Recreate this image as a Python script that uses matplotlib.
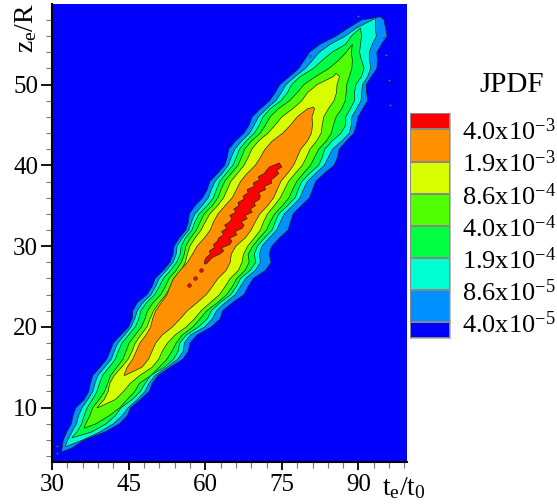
"""JPDF of entrainment height against entrainment time, filled contour bands."""
import matplotlib
matplotlib.use("Agg")
import matplotlib.pyplot as plt
import numpy as np
from matplotlib.colors import ListedColormap
from matplotlib.ticker import MultipleLocator

plt.rcParams["font.family"] = ["Liberation Serif", "DejaVu Serif"]
plt.rcParams["mathtext.fontset"] = "custom"
plt.rcParams["mathtext.rm"] = "Liberation Serif"
plt.rcParams["mathtext.it"] = "Liberation Serif"

# legend, bottom to top
colors = ["#0000ff", "#0090ff", "#00ffd0", "#00ff40", "#50ff00", "#d8ff00", "#ff9000", "#ff0000"]
labels = ["4.0x10^{-5}", "8.6x10^{-5}", "1.9x10^{-4}", "4.0x10^{-4}", "8.6x10^{-4}", "1.9x10^{-3}", "4.0x10^{-3}"]

# band outlines: z rows, left t, right t
z1 = [4.6] + list(range(5, 59)) + [58.4]
l1 = [31.8, 32.0, 32.2, 32.9, 33.8, 34.1, 34.7, 36.3, 37.2, 37.5, 38.0, 39.4, 40.7, 41.4, 42.0, 43.5, 45.0, 45.7, 45.8, 46.7, 48.6, 49.6, 50.2, 51.8, 53.1, 53.7, 53.9, 54.9, 56.2, 56.7, 56.9, 58.0, 59.5, 60.4, 60.9, 62.4, 63.8, 64.3, 64.6, 65.9, 67.6, 68.6, 69.2, 70.8, 72.6, 73.7, 74.6, 76.5, 78.3, 79.4, 80.4, 82.5, 85.6, 88.0, 90.6, 94.3]
r1 = [32.2, 33.9, 36.2, 40.4, 43.2, 44.7, 45.4, 47.3, 49.0, 49.6, 50.8, 53.1, 55.6, 56.7, 57.0, 58.4, 61.2, 62.9, 63.4, 65.3, 67.6, 68.4, 69.4, 71.8, 72.9, 72.5, 73.0, 74.5, 76.2, 76.7, 77.2, 78.8, 80.4, 81.0, 81.6, 83.3, 85.2, 85.9, 86.2, 87.6, 89.1, 89.6, 89.9, 90.8, 91.8, 91.6, 91.5, 92.5, 93.6, 93.7, 93.6, 94.5, 95.6, 95.3, 95.0, 94.3]

z2 = [5.2] + list(range(6, 58)) + [58.2]
l2 = [32.6, 33.1, 33.9, 34.8, 35.2, 35.9, 37.0, 38.0, 38.4, 39.0, 40.3, 41.6, 42.2, 42.9, 44.2, 45.5, 46.2, 46.7, 47.8, 49.4, 50.3, 51.0, 52.4, 53.7, 54.3, 54.5, 55.5, 56.8, 57.3, 58.0, 59.4, 60.6, 61.2, 61.9, 63.3, 64.5, 65.1, 65.8, 67.1, 68.7, 69.6, 70.4, 72.0, 73.8, 74.9, 75.8, 77.6, 79.6, 81.0, 82.3, 84.5, 87.4, 89.6, 93.3]
r2 = [32.8, 36.0, 39.4, 42.0, 43.7, 44.9, 46.7, 48.2, 49.0, 50.2, 52.5, 54.6, 55.7, 55.9, 57.1, 59.9, 61.4, 62.2, 63.9, 65.9, 66.9, 67.9, 69.8, 70.8, 70.6, 71.1, 72.5, 74.0, 74.7, 75.5, 77.1, 78.6, 79.2, 80.0, 81.6, 83.3, 84.1, 84.9, 86.7, 88.2, 88.6, 88.7, 89.6, 90.5, 90.6, 90.8, 91.8, 92.4, 92.2, 92.1, 92.7, 93.5, 93.3, 93.3]

z3 = [6.3] + list(range(7, 58))
l3 = [33.9, 34.9, 35.8, 36.3, 36.9, 37.9, 38.8, 39.3, 39.9, 41.2, 42.4, 43.0, 43.7, 45.0, 46.3, 47.0, 47.4, 48.5, 50.1, 51.0, 51.8, 53.2, 54.4, 55.1, 55.3, 56.1, 57.4, 58.0, 58.8, 60.4, 61.6, 62.2, 62.8, 64.1, 65.4, 66.1, 66.7, 68.0, 69.6, 70.6, 71.3, 72.7, 74.8, 76.1, 76.9, 78.6, 81.2, 82.9, 84.8, 87.5, 88.6, 90.4]
r3 = [34.1, 37.8, 40.6, 42.4, 43.5, 45.7, 47.3, 48.2, 49.3, 52.0, 53.8, 54.7, 55.0, 56.3, 58.7, 60.4, 61.2, 62.9, 65.0, 66.1, 66.9, 68.8, 69.9, 69.6, 70.2, 71.6, 73.1, 73.7, 74.4, 76.1, 77.6, 78.2, 78.9, 80.4, 82.2, 82.9, 83.4, 84.8, 86.6, 87.5, 87.5, 88.4, 89.2, 89.2, 89.5, 90.6, 91.1, 90.6, 90.2, 90.4, 90.6, 90.4]

z4 = [7.5] + list(range(8, 55)) + [55]
l4 = [36.3, 36.6, 37.4, 38.0, 39.2, 40.3, 40.9, 41.5, 42.7, 43.9, 44.5, 45.1, 46.3, 47.5, 48.2, 48.7, 49.8, 51.3, 52.2, 52.9, 54.3, 55.3, 55.9, 56.2, 57.1, 58.3, 59.0, 59.8, 61.4, 62.5, 63.1, 63.8, 65.1, 66.4, 67.1, 67.7, 69.0, 70.8, 71.8, 72.7, 74.3, 76.5, 78.0, 79.3, 81.6, 84.2, 86.1, 87.6, 88.8]
r4 = [36.5, 38.6, 41.2, 43.3, 44.7, 46.2, 47.1, 49.4, 51.0, 52.5, 53.5, 54.3, 55.5, 57.6, 59.0, 60.3, 62.4, 64.2, 65.3, 66.2, 67.8, 68.6, 68.4, 69.3, 70.6, 72.0, 72.7, 73.6, 75.1, 76.4, 77.1, 77.9, 79.2, 80.6, 81.4, 82.2, 83.7, 84.7, 85.1, 85.6, 86.7, 87.4, 87.6, 87.7, 88.2, 88.7, 88.8, 88.6, 88.8]

z5 = [10] + list(range(11, 52)) + [51.4]
l5 = [38.8, 40.2, 41.0, 41.3, 42.2, 43.6, 44.9, 45.7, 46.3, 47.4, 48.6, 49.2, 49.9, 51.0, 52.3, 53.2, 53.9, 55.3, 56.1, 56.5, 57.0, 58.0, 59.2, 60.0, 60.9, 62.4, 63.6, 64.3, 65.0, 66.3, 67.6, 68.4, 69.1, 70.4, 72.3, 73.7, 75.0, 77.1, 78.9, 80.0, 81.9, 85.1, 85.6]
r5 = [39.0, 42.4, 44.0, 45.3, 47.2, 49.6, 50.9, 51.6, 52.6, 54.1, 56.3, 57.9, 59.2, 61.0, 62.8, 63.9, 64.9, 66.5, 67.2, 67.5, 68.3, 69.6, 70.8, 71.4, 72.2, 73.5, 74.7, 75.5, 76.3, 77.6, 79.0, 79.8, 80.5, 81.8, 82.7, 82.9, 83.2, 84.1, 85.2, 85.7, 85.8, 86.3, 85.6]

z6 = [14] + list(range(15, 48)) + [47.2]
l6 = [44.1, 44.7, 45.8, 46.5, 47.2, 48.4, 49.3, 49.7, 50.3, 51.4, 52.5, 53.1, 53.8, 55.1, 56.5, 57.5, 58.4, 59.8, 61.0, 61.6, 62.5, 63.9, 65.3, 66.1, 66.9, 68.2, 69.8, 70.8, 71.7, 73.1, 75.2, 76.7, 78.0, 80.0, 81.2]
r6 = [44.3, 47.6, 48.9, 49.6, 50.3, 51.6, 53.6, 55.1, 56.5, 58.4, 60.2, 61.4, 62.5, 64.1, 64.9, 65.1, 66.0, 67.8, 69.0, 69.8, 70.7, 72.2, 73.4, 74.1, 74.8, 76.1, 77.3, 78.0, 78.7, 80.0, 80.8, 81.0, 80.9, 81.4, 81.2]

z7 = [27.8, 28.2, 28.6, 29, 29.4, 29.8, 30.2, 30.6, 31, 31.4, 31.8, 32.2, 32.6, 33, 33.4, 33.8, 34.2, 34.6, 35, 35.4, 35.8, 36.2, 36.6, 37, 37.4, 37.8, 38.2, 38.6, 39, 39.4, 39.8, 40.3]
l7 = [59.8, 59.9, 60.2, 61.0, 60.8, 61.8, 61.6, 62.4, 62.6, 63.6, 63.2, 64.2, 63.8, 64.8, 65.2, 64.8, 66.0, 65.6, 66.6, 66.4, 67.6, 67.4, 68.4, 68.2, 69.6, 69.4, 70.6, 70.4, 71.6, 72.0, 72.6, 74.5]
r7 = [60.2, 60.8, 61.4, 62.8, 63.6, 63.2, 64.8, 65.2, 64.8, 66.2, 65.8, 67.2, 67.6, 67.0, 68.2, 67.8, 69.2, 68.8, 69.8, 69.6, 70.6, 70.8, 70.4, 71.8, 71.6, 73.0, 72.9, 73.7, 74.4, 74.0, 75.0, 74.5]

# loose specks outside the bands
red_t = [56.8, 58.0, 59.2]
red_z = [25.2, 26.0, 27.0]
blue_t = [94.9, 95.3, 95.9, 90.0, 80.6, 30.9, 30.9, 96.2]
blue_z = [55.8, 53.7, 50.6, 58.5, 53.5, 4.4, 5.2, 47.5]

bands = [(z1, l1, r1), (z2, l2, r2), (z3, l3, r3), (z4, l4, r4), (z5, l5, r5), (z6, l6, r6), (z7, l7, r7)]

W, H = 557, 504
fig = plt.figure(figsize=(W / 100, H / 100), dpi=100)
ax = fig.add_axes([52 / W, 1 - 462 / H, 354.5 / W, 458 / H])
ax.set_facecolor(colors[0])

for i, (z, l, r) in enumerate(bands):
    ax.fill(l + r[::-1], z + z[::-1], facecolor=colors[i + 1], edgecolor="#1a2a1a", lw=0.5)
ax.scatter(red_t, red_z, s=7, c=colors[-1], edgecolors="#1a2a1a", linewidths=0.4, zorder=3)
ax.scatter(blue_t, blue_z, s=2, c=colors[1], edgecolors="#1a2a1a", linewidths=0.3, zorder=3)

ax.set_xlim(30, 99.4)
ax.set_ylim(3.27, 59.98)
ax.xaxis.set_major_locator(MultipleLocator(15))
ax.xaxis.set_minor_locator(MultipleLocator(3))
ax.yaxis.set_major_locator(MultipleLocator(10))
ax.yaxis.set_minor_locator(MultipleLocator(2))
ax.tick_params(axis="x", which="major", length=5.5, width=1.3, labelsize=18, pad=3)
ax.tick_params(axis="y", which="major", length=8, width=1.3, labelsize=18, pad=2)
ax.tick_params(axis="x", which="minor", length=4, width=0.8, color="#777777")
ax.tick_params(axis="y", which="minor", length=4.5, width=0.8, color="#777777")
ax.spines["top"].set_visible(False)
ax.spines["right"].set_visible(False)
ax.spines["left"].set_linewidth(1.5)
ax.spines["bottom"].set_linewidth(1.5)

fig.text(404 / W, 1 - 488 / H, r"$\mathregular{t_e/t_0}$", fontsize=20, ha="center", va="center")
fig.text(26 / W, 1 - 28 / H, r"$\mathregular{z_e/R}$", fontsize=20, ha="center", va="center", rotation=90)
fig.text(512 / W, 1 - 85 / H, "JPDF", fontsize=21, ha="center", va="center")

cax = fig.add_axes([410 / W, 1 - 338.3 / H, 40 / W, 225 / H])
edges = [-0.5] + list(range(7)) + [6.5]
cax.pcolormesh([0, 1], edges, np.arange(8).reshape(-1, 1), cmap=ListedColormap(colors),
               edgecolors="#888888", linewidth=0.3)
cax.set_xticks([])
cax.set_yticks(range(7))
cax.set_yticklabels([rf"$\mathregular{{{s}}}$" for s in labels], fontsize=19)
cax.yaxis.tick_right()
cax.tick_params(axis="y", length=0, pad=9)
for s in cax.spines.values():
    s.set_linewidth(0.4)
    s.set_edgecolor("#888888")

fig.savefig("out.png", dpi=100)
